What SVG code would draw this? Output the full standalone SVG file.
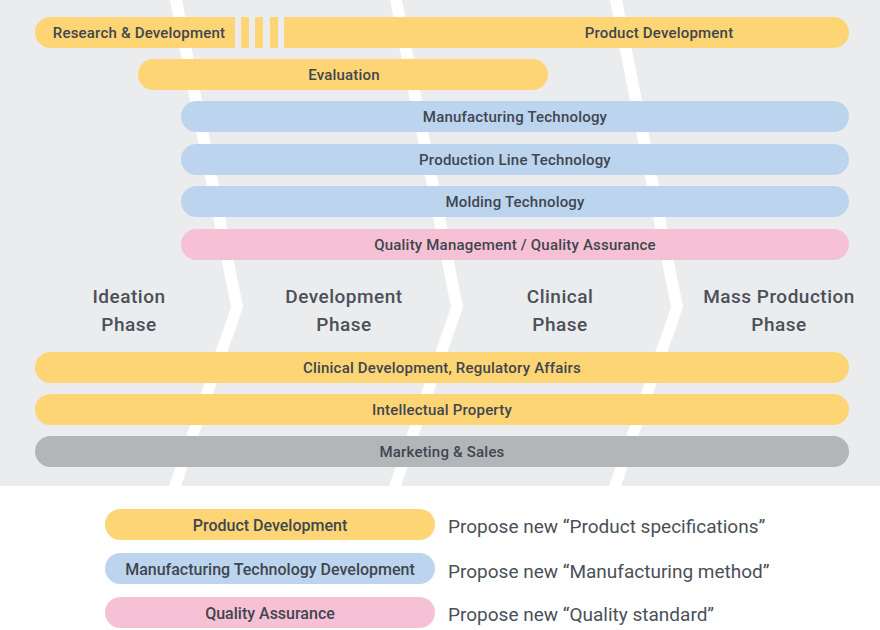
<svg xmlns="http://www.w3.org/2000/svg" width="880" height="630" viewBox="0 0 880 630">
<style>
.y{fill:#FDD574}.b{fill:#BDD4EE}.p{fill:#F6C1D4}.g{fill:#B3B6B9}
.t{font-family:Roboto,"Liberation Sans",sans-serif;font-size:15px;font-weight:500;fill:#3F4650;text-anchor:middle;letter-spacing:0.2px}
.ph{font-family:Roboto,"Liberation Sans",sans-serif;font-size:19px;font-weight:500;fill:#4A5059;text-anchor:middle;letter-spacing:0.5px}
.lg{font-family:Roboto,"Liberation Sans",sans-serif;font-size:16px;font-weight:500;fill:#3F4650;text-anchor:middle}
.d{font-family:Roboto,"Liberation Sans",sans-serif;font-size:19px;font-weight:400;fill:#4A5059}
</style>
<defs>
<polygon id="chev" points="170,0 182,0 243,307 181,486 169,486 231,307" fill="#FFFFFF"/>
</defs>
<rect x="0" y="0" width="880" height="630" fill="#FFFFFF"/>
<rect x="0" y="0" width="880" height="486" fill="#EBECEE"/>
<g id="chevrons">
<use href="#chev"/>
<use href="#chev" transform="translate(220,0)"/>
<use href="#chev" transform="translate(440,0)"/>
</g>
<g id="rd">
<path class="y" d="M235 17H50.5A15.5 15.5 0 0 0 50.5 48H235Z"/>
<rect class="y" x="241" y="17" width="8" height="31"/>
<rect class="y" x="255" y="17" width="8" height="31"/>
<rect class="y" x="270" y="17" width="8" height="31"/>
<text class="t" x="139" y="38">Research &amp; Development</text>
</g>
<g id="pd">
<path class="y" d="M284 17H833.5A15.5 15.5 0 0 1 833.5 48H284Z"/>
<text class="t" x="659" y="38">Product Development</text>
</g>
<g id="eval">
<rect class="y" x="138" y="59" width="410" height="31" rx="15.5"/>
<text class="t" x="344" y="80">Evaluation</text>
</g>
<g id="mt">
<rect class="b" x="181" y="101" width="668" height="31" rx="15.5"/>
<text class="t" x="515" y="122">Manufacturing Technology</text>
</g>
<g id="plt">
<rect class="b" x="181" y="144" width="668" height="31" rx="15.5"/>
<text class="t" x="515" y="165">Production Line Technology</text>
</g>
<g id="mold">
<rect class="b" x="181" y="186" width="668" height="31" rx="15.5"/>
<text class="t" x="515" y="207">Molding Technology</text>
</g>
<g id="qa">
<rect class="p" x="181" y="229" width="668" height="31" rx="15.5"/>
<text class="t" x="515" y="250">Quality Management / Quality Assurance</text>
</g>
<g id="phases">
<text class="ph" x="129" y="303">Ideation</text>
<text class="ph" x="129" y="331">Phase</text>
<text class="ph" x="344" y="303">Development</text>
<text class="ph" x="344" y="331">Phase</text>
<text class="ph" x="560" y="303">Clinical</text>
<text class="ph" x="560" y="331">Phase</text>
<text class="ph" x="779" y="303">Mass Production</text>
<text class="ph" x="779" y="331">Phase</text>
</g>
<g id="clin">
<rect class="y" x="35" y="352" width="814" height="31" rx="15.5"/>
<text class="t" x="442" y="373">Clinical Development, Regulatory Affairs</text>
</g>
<g id="ip">
<rect class="y" x="35" y="394" width="814" height="31" rx="15.5"/>
<text class="t" x="442" y="415">Intellectual Property</text>
</g>
<g id="mkt">
<rect class="g" x="35" y="436" width="814" height="31" rx="15.5"/>
<text class="t" x="442" y="457">Marketing &amp; Sales</text>
</g>
<g id="legend">
<rect class="y" x="105" y="509" width="330" height="31" rx="15.5"/>
<text class="lg" x="270" y="531">Product Development</text>
<text class="d" x="448" y="533">Propose new “Product specifications”</text>
<rect class="b" x="105" y="553" width="330" height="31" rx="15.5"/>
<text class="lg" x="270" y="575">Manufacturing Technology Development</text>
<text class="d" x="448" y="578">Propose new “Manufacturing method”</text>
<rect class="p" x="105" y="597" width="330" height="31" rx="15.5"/>
<text class="lg" x="270" y="619">Quality Assurance</text>
<text class="d" x="448" y="621">Propose new “Quality standard”</text>
</g>
</svg>
